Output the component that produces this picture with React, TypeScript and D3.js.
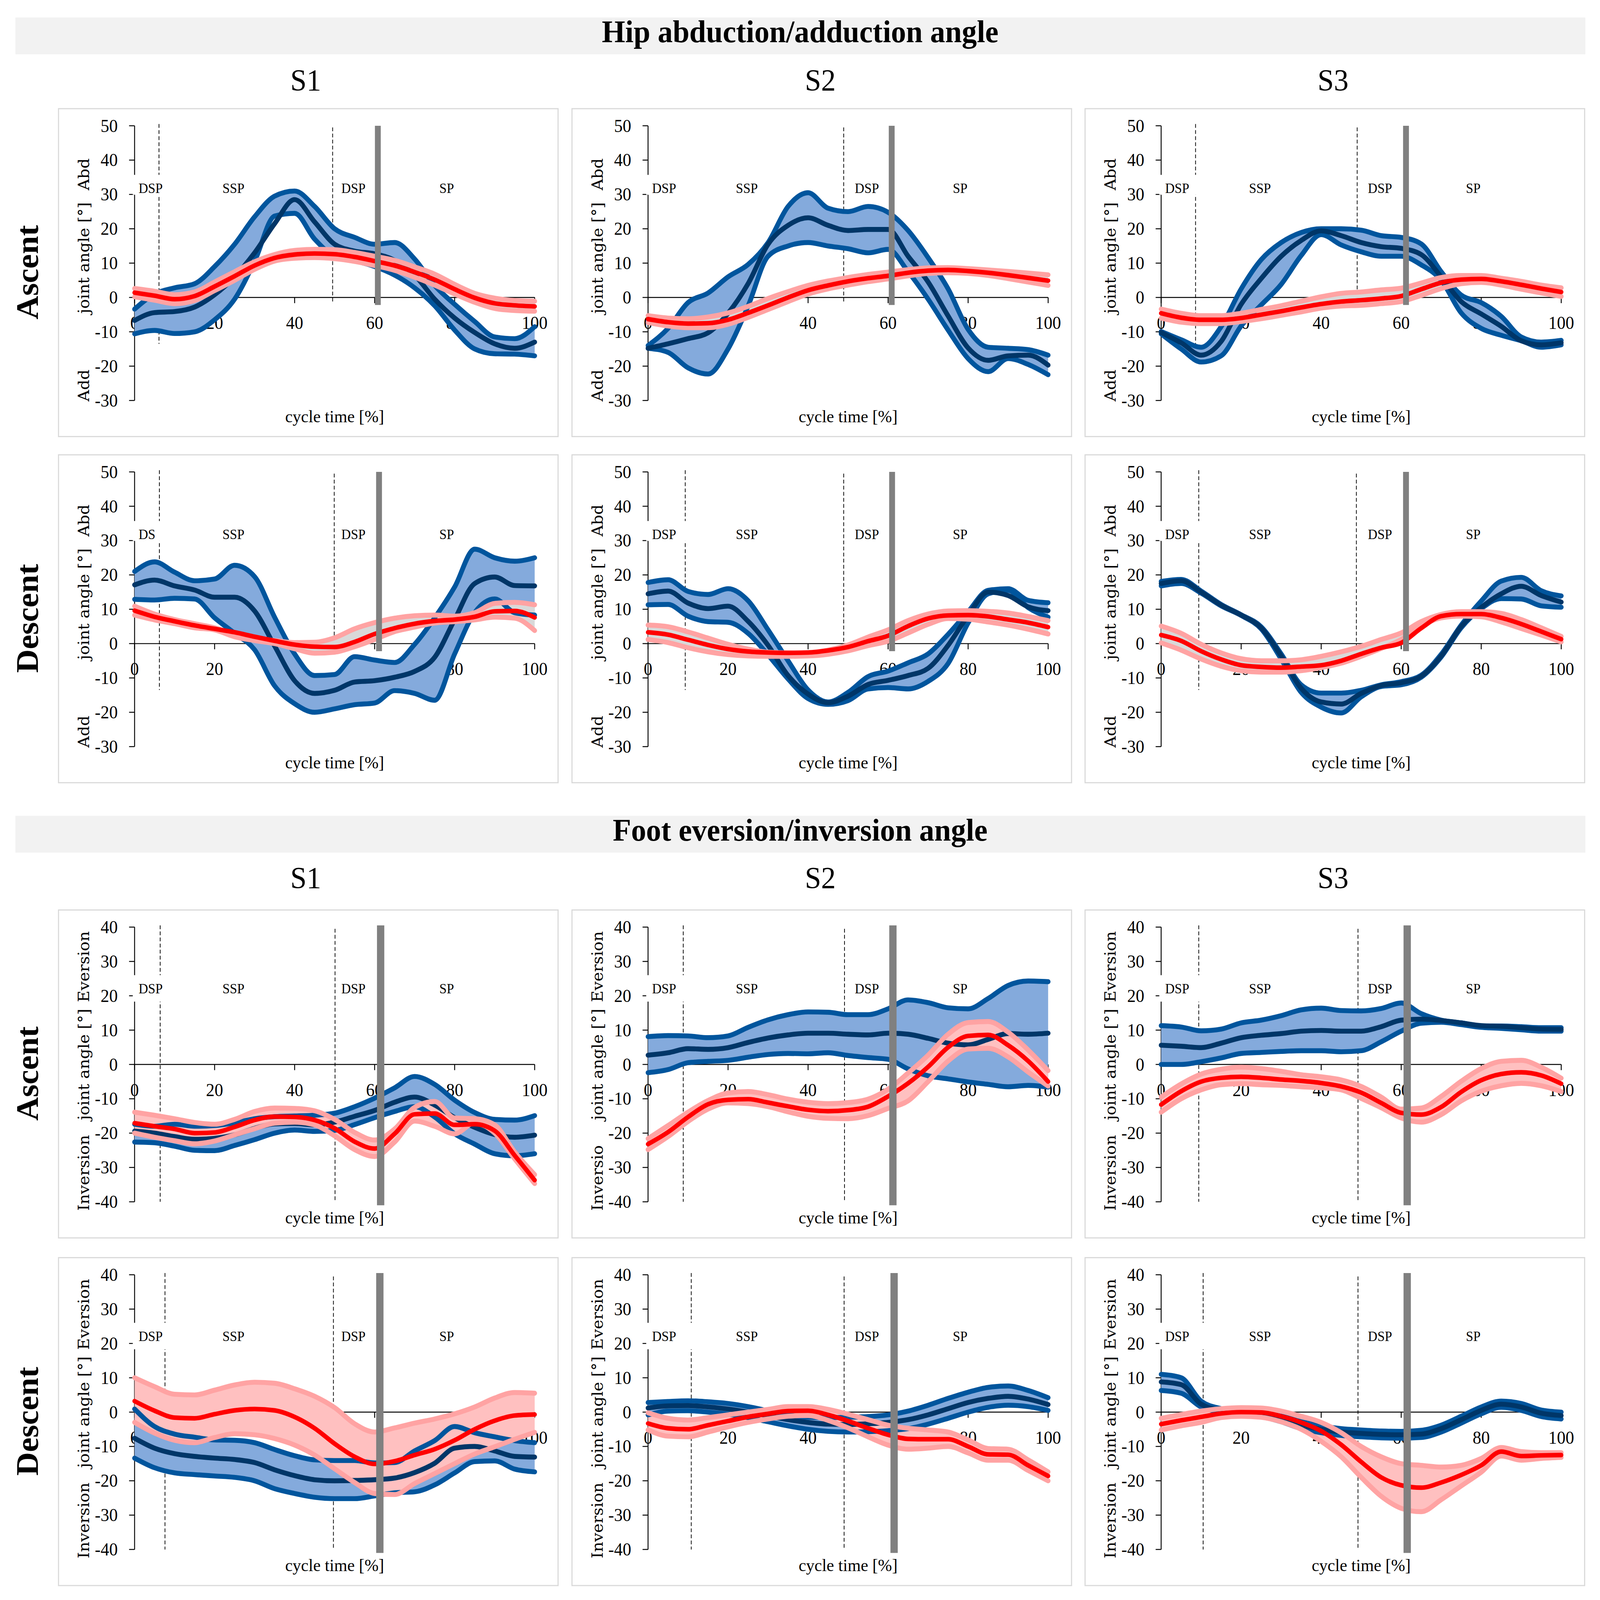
import * as d3 from 'd3'
import React from 'react'

// cycle time sample points (%)
const cyclePct = [0, 5, 10, 15, 20, 25, 30, 35, 40, 45, 50, 55, 60, 65, 70, 75, 80, 85, 90, 95, 100]

// ---------- Hip abduction/adduction : ascent ----------
const hipAscS1BlueHi = [-3.4, 1, 2.8, 4, 9, 15.5, 23.5, 29.5, 31, 26.5, 20, 17.5, 15.5, 16, 11.2, 3.5, -2, -7, -11.5, -12, -8.5]
const hipAscS1BlueMean = [-6.7, -4.4, -4.1, -2.8, 0.8, 6, 13, 21.5, 28.5, 22, 15.5, 13.5, 12.7, 10.8, 6.5, -0.5, -6, -10.2, -13.5, -14.8, -13]
const hipAscS1BlueLo = [-10.6, -9.6, -10.5, -10, -6.5, -0.5, 10.5, 23.7, 24.5, 17, 12, 10.7, 9, 6.5, 2.8, -2.4, -9.5, -15, -16.4, -16.5, -17]
const hipAscS1RedHi = [2.6, 1.8, 0.8, 1.6, 4.5, 7.5, 10.4, 12.5, 13.7, 14, 13.9, 13.1, 12, 10.8, 8.9, 6.8, 3.8, 1.2, -0.2, -0.9, -1.1]
const hipAscS1RedMean = [1.4, 0.5, -0.5, 0.4, 3.2, 6.2, 9.3, 11.5, 12.5, 12.8, 12.6, 11.8, 10.6, 9.3, 7.4, 5.2, 2.4, -0.1, -1.7, -2.3, -2.6]
const hipAscS1RedLo = [0.2, -0.8, -1.8, -0.9, 2, 5, 8.2, 10.6, 11.4, 11.6, 11.3, 10.5, 9.3, 7.9, 5.9, 3.6, 1, -1.4, -3.2, -3.8, -4]

const hipAscS2BlueHi = [-14, -9, -1.5, 1.3, 6, 9.6, 16, 26.5, 30.5, 26, 25, 26.5, 24.8, 19.5, 11.6, 2.5, -9.3, -14.5, -14.8, -15.2, -16.8]
const hipAscS2BlueMean = [-14.8, -13.5, -12, -10.3, -4.6, 4, 15.5, 21, 23.2, 21, 19.5, 19.8, 19.8, 12, 4.5, -5.4, -14.7, -18.3, -17, -16.8, -19.7]
const hipAscS2BlueLo = [-14.8, -16, -20.5, -22.3, -15, -2.5, 12, 15, 16, 15, 14.2, 13, 14, 7.5, -0.5, -9.5, -17.8, -21.6, -17.8, -19.5, -22.5]
const hipAscS2RedHi = [-5.3, -6, -6.2, -5.7, -4.5, -2.6, -0.3, 1.7, 3.5, 4.8, 5.8, 6.7, 7.4, 8.1, 8.6, 8.7, 8.4, 8, 7.6, 7.1, 6.6]
const hipAscS2RedMean = [-6.3, -7.2, -7.6, -7.5, -6.5, -4.5, -2.3, 0, 2.1, 3.5, 4.7, 5.6, 6.3, 7.2, 7.8, 8, 7.7, 7.2, 6.5, 5.7, 4.9]
const hipAscS2RedLo = [-7.3, -8.3, -8.8, -8.8, -7.8, -5.8, -3.5, -1.2, 1, 2.5, 3.6, 4.6, 5.4, 6.3, 7, 7.2, 7, 6.4, 5.5, 4.5, 3.5]

const hipAscS3BlueHi = [-9.9, -12.3, -14.5, -8.5, 2.5, 11, 16, 18.9, 20, 20, 19.6, 18, 17.5, 15.6, 7.5, 0.7, -1.5, -5.5, -11.5, -13, -12.5]
const hipAscS3BlueMean = [-10.2, -13.2, -16.8, -12.8, -2, 5.5, 12, 16.6, 19.4, 18, 16, 14.8, 14.3, 12.5, 6, -1.2, -4.8, -8.4, -12.6, -13.8, -13.2]
const hipAscS3BlueLo = [-10.6, -15, -18.8, -17, -8.3, -2.2, 3.8, 12.2, 18.3, 15.3, 13.3, 12, 12, 9.5, 5, -4.5, -9, -11, -12.6, -14.5, -13.8]
const hipAscS3RedHi = [-3.4, -4.6, -5.3, -5.3, -4.6, -3.5, -2.4, -1.1, 0.2, 1.2, 1.6, 2.2, 2.7, 4.2, 5.8, 6.4, 6.4, 5.6, 4.7, 3.6, 2.8]
const hipAscS3RedMean = [-4.6, -5.9, -6.5, -6.5, -6, -5, -4, -2.9, -1.9, -1.2, -0.8, -0.3, 0.4, 2.4, 4.3, 5.2, 5.4, 4.7, 3.7, 2.6, 1.6]
const hipAscS3RedLo = [-6, -7.2, -7.6, -7.6, -7, -6.2, -5.2, -4.2, -3.1, -2.5, -2.3, -1.8, -1.2, 0.6, 2.6, 4, 4.4, 3.6, 2.4, 1.3, 0.3]

// ---------- Hip abduction/adduction : descent ----------
const hipDescS1BlueHi = [21, 23.8, 20.8, 18.3, 18.8, 22.8, 19.5, 7.7, -3, -9.3, -9, -3.8, -4.8, -5.5, -0.2, 7.5, 16.5, 27.5, 25, 24, 25]
const hipDescS1BlueMean = [17.1, 18.5, 16.8, 15.6, 13.5, 13.5, 9.5, -0.7, -10.8, -14.5, -13.6, -11.2, -10.8, -9.8, -8.1, -4, 7, 17.5, 19.4, 16.9, 16.8]
const hipDescS1BlueLo = [12.9, 12.7, 13.2, 13, 7.5, 3, -1.8, -12.3, -17.5, -20, -19, -17.8, -17.3, -13.7, -14.5, -16.5, -3, 9, 13, 9, 8.3]
const hipDescS1RedHi = [10.9, 8.6, 7, 5.8, 4.6, 2.7, 1.6, 0.9, 0.3, 0.4, 1.7, 4.3, 6.1, 7.4, 8.1, 8.3, 8, 9, 11.7, 12, 11.3]
const hipDescS1RedMean = [9.6, 7.8, 6.5, 5.3, 4.3, 3.3, 2, 0.8, -0.3, -0.9, -1, 0.5, 2.8, 4.5, 5.8, 6.6, 7, 7.8, 9.4, 9.5, 7.6]
const hipDescS1RedLo = [8.3, 6.9, 5.8, 4.6, 4, 2, 0.9, 0, -1.5, -2.8, -2.5, -0.9, 1.2, 3.5, 4.8, 6, 6.4, 6.9, 7.7, 7.4, 3.8]

const hipDescS2BlueHi = [17.8, 18.6, 15.2, 14.3, 16, 12.5, 4, -5, -13.5, -17, -14.2, -9.6, -8, -5.6, -3, 2.7, 9.3, 15.5, 16, 12.6, 11.9]
const hipDescS2BlueMean = [14.5, 15.3, 11.8, 10.2, 10.9, 6.5, -0.5, -9.3, -14.7, -17.2, -15.3, -11.9, -10.7, -9.3, -7.2, -0.5, 8.2, 15, 14, 10.7, 9.6]
const hipDescS2BlueLo = [11.3, 11.4, 8, 6.4, 6.2, 3, -3.3, -10.3, -16, -17.7, -16.6, -13.2, -12.8, -13.2, -11, -5.8, 6, 14.5, 15.5, 10.5, 7.7]
const hipDescS2RedHi = [5.4, 4.9, 3.4, 1.6, -0.2, -1.6, -2.5, -2.7, -2.6, -1.9, -0.4, 1.9, 4, 6.7, 8.6, 9.5, 9.6, 9.4, 8.9, 7.9, 6.7]
const hipDescS2RedMean = [3.3, 2.6, 1.1, -0.4, -1.6, -2.3, -2.6, -2.7, -2.6, -2, -1, 0.7, 2.3, 5.1, 7.3, 8.2, 8.3, 7.9, 7, 6.1, 4.8]
const hipDescS2RedLo = [1.2, 0.3, -1.2, -2.4, -3.2, -3.6, -3.7, -3.7, -3.6, -3.1, -2.1, -0.6, 0.7, 3.1, 5.6, 7.3, 7.1, 6.3, 5.4, 4.2, 2.8]

const hipDescS3BlueHi = [18.1, 18.7, 15.3, 11.4, 8.4, 4.9, -3, -12, -14.4, -14.4, -13.6, -12, -11.1, -9.2, -3.1, 5.4, 12.4, 18.2, 19.3, 15.4, 13.9]
const hipDescS3BlueMean = [17.5, 18.3, 15, 11.2, 8.3, 4.6, -3.6, -13, -17, -17.6, -14.5, -12.2, -11.4, -9.5, -3.6, 5, 10.5, 14.5, 16.7, 14, 12.1]
const hipDescS3BlueLo = [16.8, 17.5, 14.7, 11, 8.2, 4.3, -4.5, -14.2, -18.5, -20.2, -15.5, -12.5, -12, -9.8, -3.9, 4.6, 10.2, 13.1, 13, 11, 10.6]
const hipDescS3RedHi = [5.1, 3, -0.2, -2.7, -4.4, -5, -5, -4.7, -3.7, -2.4, -0.8, 1.2, 3.1, 6.4, 8.5, 9.3, 9.3, 8.8, 7, 4.6, 2.1]
const hipDescS3RedMean = [2.5, 0.8, -2.2, -4.6, -6.3, -6.8, -7, -6.7, -6.3, -5, -3, -1.2, 0.2, 4.5, 8, 8.6, 8.6, 7.5, 5.7, 3.5, 1.3]
const hipDescS3RedLo = [0.2, -1.9, -4.5, -6.6, -7.9, -8.3, -8.3, -7.9, -7, -5.7, -3.7, -1.4, 1.2, 5.1, 7.5, 8, 7.8, 6.3, 4.4, 2.5, 0.5]

// ---------- Foot eversion/inversion : ascent ----------
const footAscS1BlueHi = [-17.4, -18, -17.4, -18, -17.8, -17, -15.8, -15.2, -15, -14.8, -14.2, -12.3, -9.8, -6.8, -3.5, -5.8, -10.4, -14, -16, -16.2, -14.9]
const footAscS1BlueMean = [-19.4, -20, -21, -21.8, -21.5, -20.5, -18.6, -17.3, -17.2, -17.6, -16.8, -15.1, -13.4, -11, -9.5, -11.8, -15.5, -18.3, -20.4, -21.2, -20.6]
const footAscS1BlueLo = [-22.6, -22.8, -23.8, -25, -25.1, -23.6, -21.9, -20, -19.1, -19.5, -19.2, -17.5, -15.5, -13.7, -12.3, -15.3, -20.2, -23.2, -26, -26.6, -26]
const footAscS1RedHi = [-13.9, -14.8, -15.8, -16.9, -17.4, -16, -13.7, -12.7, -12.8, -13.5, -16, -19.8, -22, -18.8, -12.5, -10.8, -15.6, -15.8, -17.6, -25.5, -32.1]
const footAscS1RedMean = [-17.1, -18, -18.8, -20, -19.8, -18.2, -16.2, -15.2, -15.3, -16.2, -18.6, -22.5, -24.5, -20.2, -14.5, -14.3, -17.6, -17.4, -19.3, -26.5, -33.7]
const footAscS1RedLo = [-20, -21.2, -22.2, -23.1, -22.3, -20.5, -18.7, -17.1, -16.8, -17.6, -20.8, -24.8, -26.8, -22.6, -16.5, -18, -20.2, -17, -20, -27.5, -34.7]

const footAscS2BlueHi = [8.1, 8.4, 8.3, 7.8, 8.3, 10.8, 13, 14.5, 15.3, 15.2, 14.5, 14.5, 16.2, 18.8, 18, 16.5, 16.2, 19.2, 23, 24.3, 24.1]
const footAscS2BlueMean = [2.7, 3.4, 4.6, 4.4, 4.9, 6.4, 7.7, 8.6, 9.1, 9.1, 8.8, 8.6, 9.1, 8.8, 7.6, 6.2, 5.7, 7.3, 9, 8.8, 9.1]
const footAscS2BlueLo = [-2.4, -1.5, 0.5, 0.9, 1.2, 2.1, 2.9, 3.2, 3.1, 3.4, 2.6, 2, 1.5, -1.3, -3.3, -4.2, -5.1, -5.8, -6.5, -6.1, -6.6]
const footAscS2RedHi = [-21.6, -17.8, -13.9, -10.5, -8.3, -7.9, -8.8, -10.1, -11, -11.4, -11.1, -10.1, -7.2, -2.5, 2.7, 8.8, 12.2, 12.5, 9.4, 4.2, -1.8]
const footAscS2RedMean = [-23.2, -19.7, -15.3, -11.6, -10.3, -10.1, -11.1, -12.2, -13.2, -13.6, -13.3, -12.3, -9.3, -5.5, -0.7, 5, 8.3, 8.6, 5.6, 1, -5]
const footAscS2RedLo = [-24.8, -21, -16.6, -13, -11.2, -11.4, -12.3, -13.8, -15.1, -15.7, -15.8, -14.9, -12.8, -10.6, -5, 1, 4.5, 4.7, 2.2, -2.2, -6.3]

const footAscS3BlueHi = [11.3, 10.9, 9.8, 10.3, 12.1, 12.9, 14.2, 15.9, 16.4, 15.7, 15.6, 16.3, 17.9, 14.8, 12.9, 12.1, 11.2, 11.2, 11, 10.7, 10.7]
const footAscS3BlueMean = [5.6, 5.3, 4.9, 6.2, 7.8, 8.5, 9, 9.7, 9.9, 9.7, 9.7, 11, 12.9, 13.2, 12.8, 12.1, 11.3, 11.1, 10.7, 10.3, 10.2]
const footAscS3BlueLo = [0, 0, 0.8, 1.9, 3.2, 3.5, 3.8, 4, 4, 3.7, 4, 6.6, 9.7, 12, 12.3, 11.6, 10.8, 10.5, 10.1, 9.7, 9.7]
const footAscS3RedHi = [-9.5, -5.7, -2.8, -1.4, -0.8, -1.2, -2, -3, -3.6, -4.5, -6.4, -9.5, -13, -12.7, -9.3, -4.9, -1.2, 0.9, 1.2, -0.8, -4]
const footAscS3RedMean = [-11.7, -7.8, -5, -3.9, -3.6, -3.9, -4.4, -4.8, -5.4, -6.4, -8.2, -11.2, -14.1, -14.6, -12.4, -8, -4.6, -2.8, -2.3, -3.2, -5.6]
const footAscS3RedLo = [-13.9, -10, -7.4, -5.9, -5.6, -5.9, -6.1, -6.5, -6.8, -7.4, -9.9, -12.6, -15.6, -16.8, -14.6, -10.6, -7.8, -6.2, -5.5, -6.2, -7.9]

// ---------- Foot eversion/inversion : descent ----------
const footDescS1BlueHi = [0.9, -4.2, -6.4, -7.3, -8.1, -8.2, -8.9, -10.9, -12.7, -13.9, -14.1, -14.1, -14.8, -14.7, -11.3, -8.3, -4.2, -6, -7.2, -8.3, -8.9]
const footDescS1BlueMean = [-7.6, -10.5, -12.1, -12.9, -13.4, -13.8, -14.7, -16.8, -18.5, -19.7, -20, -19.9, -19.7, -19.2, -17.6, -14.9, -10.5, -10, -11.3, -12.9, -13.1]
const footDescS1BlueLo = [-13.4, -16.2, -17.7, -18.2, -18.6, -19, -20, -22.3, -23.7, -24.8, -25.2, -25.2, -24.4, -23.5, -23.2, -21.2, -17.7, -14.4, -14.2, -16.6, -17.4]
const footDescS1RedHi = [10, 7.4, 5.2, 5, 6.4, 7.9, 8.7, 8.4, 6.8, 4.6, 1.3, -3.4, -5.8, -4.6, -3.2, -2, -0.5, 1.5, 4.1, 5.7, 5.5]
const footDescS1RedMean = [3.2, 0.4, -1.6, -1.8, -0.6, 0.5, 0.9, 0.5, -1.4, -4.7, -9.2, -13, -15.1, -14.3, -12.5, -10.8, -8.2, -5, -2.5, -1, -0.7]
const footDescS1RedLo = [-3, -6.1, -8.2, -8.9, -7.4, -6.3, -6.6, -7.7, -9.6, -12.5, -16.5, -20.5, -23.7, -24, -20.8, -17.9, -15, -12.2, -10.1, -7.9, -5.9]

const footDescS2BlueHi = [2.8, 3.1, 3.3, 3, 2.5, 1.6, 0.4, -0.8, -1.5, -1.6, -1.5, -1.3, -0.8, 0.3, 2, 4, 5.8, 7.2, 7.6, 6.3, 4.2]
const footDescS2BlueMean = [1.2, 1.8, 1.9, 1.5, 0.9, 0, -1.1, -2.2, -3, -3.5, -3.6, -3.4, -3, -2.2, -0.8, 1, 2.8, 4, 4.6, 3.8, 2.2]
const footDescS2BlueLo = [-0.8, 0.3, 0.4, 0, -0.6, -1.6, -2.8, -4, -5, -5.6, -5.8, -5.7, -5.4, -4.8, -3.5, -1.8, 0, 1.4, 2, 1.6, 0.5]
const footDescS2RedHi = [-0.2, -1.8, -2.3, -1.6, -0.8, 0, 0.8, 1.6, 1.6, 0.8, -0.6, -2.2, -3.8, -4.7, -5.2, -5.8, -8.1, -10.6, -10.8, -13.9, -17.4]
const footDescS2RedMean = [-3.3, -4.7, -5, -3.8, -2.6, -1.4, -0.5, 0.3, 0.4, -0.8, -2.6, -4.7, -6.6, -7.8, -7.9, -7.9, -10, -12.3, -12.4, -15.5, -18.6]
const footDescS2RedLo = [-5.2, -7, -7.2, -5.8, -4.3, -3, -2, -1.2, -1, -2.4, -4.6, -7.2, -9.6, -10.8, -10.5, -10, -11.9, -14, -14, -17, -20]

const footDescS3BlueHi = [11, 10, 3.2, 1, 0.2, -0.3, -1.2, -2.8, -4, -4.8, -5.2, -5.5, -5.6, -5.3, -3.8, -1.2, 1.5, 3.2, 2.5, 0.6, 0]
const footDescS3BlueMean = [8.8, 8, 2.3, 0.5, -0.2, -0.8, -2, -3.8, -5, -5.8, -6.2, -6.5, -6.6, -6.4, -4.8, -2.2, 0.5, 2.3, 1.5, -0.3, -1]
const footDescS3BlueLo = [6.3, 5.5, 1.5, 0, -0.6, -1.3, -2.8, -4.8, -6, -6.8, -7.2, -7.5, -7.6, -7.4, -5.8, -3.2, -0.5, 1.4, 0.5, -1.3, -2]
const footDescS3RedHi = [-1.8, -0.7, 0.3, 1, 1.3, 1.2, 0.3, -1.2, -3, -6, -10, -13, -15, -15.5, -16, -15.5, -13.5, -10.3, -11.5, -11.8, -11.8]
const footDescS3RedMean = [-3.5, -2.4, -1.4, -0.4, 0, -0.1, -1.2, -3, -5.5, -9.5, -14.5, -19, -21.3, -22, -20.5, -18.3, -15.5, -11.5, -12.8, -12.6, -12.5]
const footDescS3RedLo = [-5.2, -4, -3, -1.6, -1.2, -1.5, -2.8, -5, -8.5, -13, -19, -24.5, -28, -29, -25.5, -21.5, -17.5, -12.8, -14, -13.5, -13.2]

// ---------- labels / ticks / phase markers ----------
const sectionTitles = ['Hip abduction/adduction angle', 'Foot eversion/inversion angle']
const subjects = ['S1', 'S2', 'S3']
const rowNames = ['Ascent', 'Descent', 'Ascent', 'Descent']
const hipTicks = [-30, -20, -10, 0, 10, 20, 30, 40, 50]
const footTicks = [-40, -30, -20, -10, 0, 10, 20, 30, 40]
const xTicks = [0, 20, 40, 60, 80, 100]
const phaseNames = ['DSP', 'SSP', 'DSP', 'SP']
const phaseLabelX = [1, 24.7, 54.7, 78]
// row-major, 12 panels
const firstDash = [6.1, null, 8.6, 6.2, 9.3, 9.4, 6.4, 8.8, 9.4, 7.6, 10.8, 10.5]
const secondDash = [49.5, 48.9, 49, 49.9, 48.9, 48.8, 50.1, 49.1, 49.2, 49.7, 49, 49.2]
const toeOff = [60.8, 60.9, 61.2, 61.1, 61, 61.2, 61.5, 61.2, 61.5, 61.3, 61.5, 61.5]

const panels = [
  [hipAscS1BlueHi, hipAscS1BlueMean, hipAscS1BlueLo, hipAscS1RedHi, hipAscS1RedMean, hipAscS1RedLo],
  [hipAscS2BlueHi, hipAscS2BlueMean, hipAscS2BlueLo, hipAscS2RedHi, hipAscS2RedMean, hipAscS2RedLo],
  [hipAscS3BlueHi, hipAscS3BlueMean, hipAscS3BlueLo, hipAscS3RedHi, hipAscS3RedMean, hipAscS3RedLo],
  [hipDescS1BlueHi, hipDescS1BlueMean, hipDescS1BlueLo, hipDescS1RedHi, hipDescS1RedMean, hipDescS1RedLo],
  [hipDescS2BlueHi, hipDescS2BlueMean, hipDescS2BlueLo, hipDescS2RedHi, hipDescS2RedMean, hipDescS2RedLo],
  [hipDescS3BlueHi, hipDescS3BlueMean, hipDescS3BlueLo, hipDescS3RedHi, hipDescS3RedMean, hipDescS3RedLo],
  [footAscS1BlueHi, footAscS1BlueMean, footAscS1BlueLo, footAscS1RedHi, footAscS1RedMean, footAscS1RedLo],
  [footAscS2BlueHi, footAscS2BlueMean, footAscS2BlueLo, footAscS2RedHi, footAscS2RedMean, footAscS2RedLo],
  [footAscS3BlueHi, footAscS3BlueMean, footAscS3BlueLo, footAscS3RedHi, footAscS3RedMean, footAscS3RedLo],
  [footDescS1BlueHi, footDescS1BlueMean, footDescS1BlueLo, footDescS1RedHi, footDescS1RedMean, footDescS1RedLo],
  [footDescS2BlueHi, footDescS2BlueMean, footDescS2BlueLo, footDescS2RedHi, footDescS2RedMean, footDescS2RedLo],
  [footDescS3BlueHi, footDescS3BlueMean, footDescS3BlueLo, footDescS3RedHi, footDescS3RedMean, footDescS3RedLo],
]

// layout
const W = 4375
const H = 4211
const colX0 = [368, 1772, 3175]
const plotW = 1094
const rowTop = [331, 1242, 2440, 3355]
const plotH = 723
const serif = "'Liberation Serif', 'Times New Roman', serif"
const wide = "'DejaVu Serif', serif"

const BLUE_LINE = '#00559d'
const BLUE_MEAN = '#003668'
const BLUE_FILL = '#84aadc'
const PINK_LINE = '#ffa3a3'
const RED = '#ff0000'
const PINK_FILL = '#ffc0c0'

const Panel = ({ idx }: any) => {
  const row = Math.floor(idx / 3)
  const col = idx % 3
  const hip = row < 2
  const [bHi, bMean, bLo, rHi, rMean, rLo] = panels[idx]
  const x0 = colX0[col]
  const top = rowTop[row]
  const x = d3.scaleLinear().domain([0, 100]).range([x0, x0 + plotW])
  const y = d3.scaleLinear().domain(hip ? [-30, 50] : [-40, 40]).range([top + plotH, top])
  const ticks = hip ? hipTicks : footTicks

  const line = d3.line<number>().x((d, k) => x(cyclePct[k])).y((d) => y(d)).curve(d3.curveMonotoneX)
  const band = (hi: number[], lo: number[]) =>
    d3.area<number>().x((d) => x(d)).y0((d, k) => y(lo[k])).y1((d, k) => y(hi[k])).curve(d3.curveMonotoneX)(cyclePct) as string

  const dashTop = hip ? 50.5 : 40.5
  const dash1Bot = hip ? -13.5 : -40
  const dash2Bot = hip ? -1.5 : -40
  const barBot = hip ? -2.2 : -41
  const d1 = firstDash[idx]
  const labelY = hip ? 31.8 : 22
  const boxHi = hip ? 35.7 : 26
  const boxLo = hip ? 29.9 : 18.3
  const boxRight = x(Math.max(d1 ?? 7.5, 7.5)) + 5

  const yTitles = hip
    ? [['Add', -30.3, 'start'], ['joint angle [°]', 11.5, 'middle'], ['Abd', 40.5, 'end']]
    : [[idx === 7 ? 'Inversio' : 'Inversion', -42.6, 'start'], ['joint angle [°]', 0, 'middle'], ['Eversion', 38.8, 'end']]

  const lw = 13
  const stroke = (arr: number[], c: string, w: number) => (
    <path d={line(arr) as string} fill="none" stroke={c} strokeWidth={w} strokeLinecap="round" strokeLinejoin="round" />
  )
  return (
    <g>
      <rect x={x0 - 208} y={top - 45} width={1158 + 208} height={plotH + 140} fill="#fff" stroke="#d9d9d9" strokeWidth={3} />
      {/* y axis */}
      <line x1={x0} x2={x0} y1={y(ticks[0])} y2={y(ticks[ticks.length - 1])} stroke="#000" strokeWidth={2.5} />
      {ticks.map((t) => (
        <g key={t}>
          <line x1={x0 - 15} x2={x0} y1={y(t)} y2={y(t)} stroke="#000" strokeWidth={2.5} />
          <text x={x0 - 46} y={y(t) + 16} textAnchor="end" fontFamily={serif} fontSize={47}>{t}</text>
        </g>
      ))}
      {/* x axis through zero */}
      <line x1={x(0)} x2={x(100)} y1={y(0)} y2={y(0)} stroke="#000" strokeWidth={2.5} />
      {xTicks.map((t) => (
        <g key={t}>
          <line x1={x(t)} x2={x(t)} y1={y(0)} y2={y(0) + 15} stroke="#000" strokeWidth={2.5} />
          <text x={x(t)} y={y(0) + 83} textAnchor="middle" fontFamily={serif} fontSize={47}>{t}</text>
        </g>
      ))}
      {/* phase boundaries */}
      {d1 != null && (
        <line x1={x(d1)} x2={x(d1)} y1={y(dashTop)} y2={y(dash1Bot)} stroke="#000" strokeWidth={2} strokeDasharray="10 6" />
      )}
      <line x1={x(secondDash[idx])} x2={x(secondDash[idx])} y1={y(dashTop - 1)} y2={y(dash2Bot)} stroke="#000" strokeWidth={2} strokeDasharray="10 6" />
      {/* phase labels */}
      <rect x={x0 - 5} y={y(boxHi)} width={boxRight - (x0 - 5)} height={y(boxLo) - y(boxHi)} fill="#fff" />
      {phaseNames.map((n, k) => (
        <text key={k} x={x(phaseLabelX[k])} y={y(labelY) + 12}
          textAnchor={k === 0 ? 'start' : 'middle'} fontFamily={serif} fontSize={36}>
          {k === 0 && idx === 3 ? 'DS' : n}
        </text>
      ))}
      {/* bands and curves */}
      <path d={band(bHi, bLo)} fill={BLUE_FILL} />
      <path d={band(rHi, rLo)} fill={hip ? '#d9d9d9' : PINK_FILL} />
      {stroke(bHi, BLUE_LINE, lw)}
      {stroke(bLo, BLUE_LINE, lw)}
      {stroke(bMean, BLUE_MEAN, lw)}
      {stroke(rHi, PINK_LINE, lw)}
      {stroke(rLo, PINK_LINE, lw)}
      {stroke(rMean, RED, lw - 1)}
      {/* toe-off bar */}
      <line x1={x(toeOff[idx])} x2={x(toeOff[idx])} y1={y(hip ? 50 : 40.5)} y2={y(barBot)} stroke="#808080" strokeWidth={hip ? 16 : 20} />
      {/* axis titles */}
      {yTitles.map(([t, v, a]: any) => (
        <text key={t} transform={`translate(${x0 - 124},${y(v)}) rotate(-90)`} textAnchor={a}
          fontFamily={wide} fontSize={42}>{t}</text>
      ))}
      <text x={x(50)} y={top + plotH + 57} textAnchor="middle" fontFamily={serif} fontSize={46}>cycle time [%]</text>
    </g>
  )
}

const App = () => {
  const barTops = [46, 2147]
  const headerY = [237, 2337]
  const headerX = [836, 2243, 3645]
  return (
    <svg viewBox={`0 0 ${W} ${H}`} preserveAspectRatio="none"
      style={{ position: 'fixed', left: 0, top: 0, width: '100vw', height: '100vh', display: 'block', background: '#fff' }}>
      <rect x={0} y={0} width={W} height={H} fill="#fff" />
      {sectionTitles.map((t, i) => (
        <g key={t}>
          <rect x={42} y={barTops[i]} width={4293} height={97} fill="#f2f2f2" />
          <text x={2188} y={barTops[i] + 65} textAnchor="middle" fontFamily={serif} fontWeight="bold" fontSize={82}>{t}</text>
          {subjects.map((s, j) => (
            <text key={s} x={headerX[j]} y={headerY[i]} textAnchor="middle" fontFamily={serif} fontSize={80}>{s}</text>
          ))}
        </g>
      ))}
      {rowNames.map((r, i) => (
        <text key={i} transform={`translate(104,${rowTop[i] + plotH / 2 + 24}) rotate(-90)`} textAnchor="middle"
          fontFamily={serif} fontWeight="bold" fontSize={86}>{r}</text>
      ))}
      {panels.map((p, i) => (
        <Panel key={i} idx={i} />
      ))}
    </svg>
  )
}

export default App
